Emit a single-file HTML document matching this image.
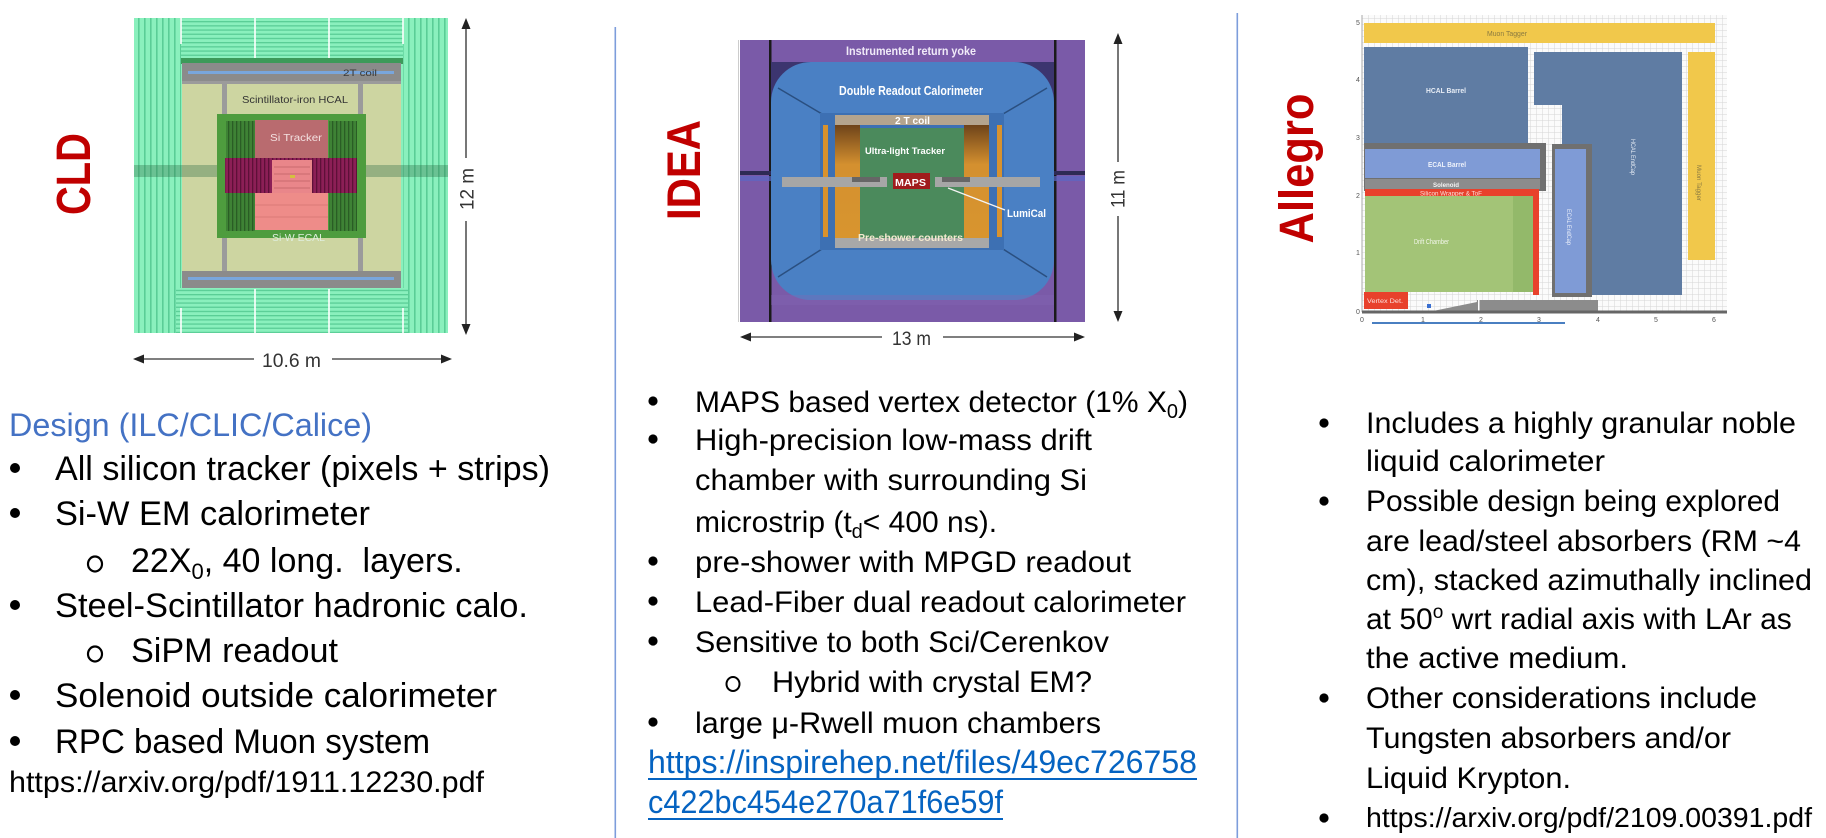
<!DOCTYPE html>
<html><head><meta charset="utf-8">
<style>
html,body{margin:0;padding:0;background:#fff;}
svg{display:block;}
text{font-family:"Liberation Sans",Arial,sans-serif;}
</style></head><body>
<svg width="1826" height="838" viewBox="0 0 1826 838" xmlns="http://www.w3.org/2000/svg">
<defs>
<pattern id="vs" width="6" height="10" patternUnits="userSpaceOnUse"><rect width="6" height="10" fill="#8af0bd"/><rect x="0" width="1.6" height="10" fill="#5acd96"/></pattern>
<pattern id="hs" width="10" height="4.2" patternUnits="userSpaceOnUse"><rect width="10" height="4.2" fill="#8af0bd"/><rect y="0" width="10" height="1.3" fill="#5acd96"/></pattern>
<pattern id="grid" width="6" height="6" patternUnits="userSpaceOnUse"><path d="M6 0H0V6" fill="none" stroke="#d6d6d6" stroke-width="1"/></pattern>
<pattern id="ds" width="4" height="10" patternUnits="userSpaceOnUse"><rect width="4" height="10" fill="#3e8235"/><rect width="1.3" height="10" fill="#2a5d25"/></pattern>
<pattern id="ms" width="4" height="10" patternUnits="userSpaceOnUse"><rect width="4" height="10" fill="#8c1f56"/><rect width="1.3" height="10" fill="#5e1038"/></pattern>
<linearGradient id="og" x1="0" y1="0" x2="0" y2="1"><stop offset="0" stop-color="#6e431a"/><stop offset="0.35" stop-color="#d4902f"/><stop offset="1" stop-color="#d8952f"/></linearGradient>
</defs>

<!-- separators -->
<rect x="614.5" y="27" width="1.6" height="811" fill="#7d9ddb"/>
<rect x="1236.5" y="13" width="1.6" height="825" fill="#7d9ddb"/>

<!-- ================= CLD ================= -->
<text transform="translate(90,174) rotate(-90)" x="-41" y="0" font-size="48" font-weight="bold" fill="#c00000" textLength="82" lengthAdjust="spacingAndGlyphs">CLD</text>

<rect x="134" y="18" width="314" height="315" fill="#8af0bd"/>
<rect x="134" y="18" width="47" height="315" fill="url(#vs)"/>
<rect x="403" y="18" width="45" height="315" fill="url(#vs)"/>
<rect x="181" y="18" width="222" height="40" fill="url(#hs)"/>
<rect x="176" y="288" width="232" height="45" fill="url(#hs)"/>
<g stroke="#ffffff" stroke-width="1.6">
<line x1="181" y1="18" x2="181" y2="44"/><line x1="255" y1="18" x2="255" y2="60"/><line x1="329" y1="18" x2="329" y2="60"/><line x1="403" y1="18" x2="403" y2="44"/>
<line x1="255" y1="289" x2="255" y2="333"/><line x1="329" y1="289" x2="329" y2="333"/><line x1="181" y1="308" x2="181" y2="333"/><line x1="403" y1="308" x2="403" y2="333"/>
</g>
<rect x="181" y="58" width="222" height="6" fill="#3d9a5a"/>
<rect x="182" y="63" width="219" height="18" fill="#8b8b8b"/>
<rect x="188" y="71" width="206" height="3" fill="#79a6dc"/>
<text x="343" y="76" font-size="9" fill="#3a3a3a" textLength="34" lengthAdjust="spacingAndGlyphs">2T coil</text>
<rect x="182" y="81" width="219" height="190" fill="#cdd5a1"/>
<rect x="222" y="81" width="5" height="190" fill="#9b9b9b"/>
<rect x="358" y="81" width="5" height="190" fill="#9b9b9b"/>
<rect x="182" y="81" width="219" height="3" fill="#9b9b9b"/>
<rect x="134" y="165" width="314" height="12" fill="#2f6e45" opacity="0.35"/>
<text x="242" y="103" font-size="10" fill="#333" textLength="106" lengthAdjust="spacingAndGlyphs">Scintillator-iron HCAL</text>
<rect x="217" y="114" width="149" height="124" fill="#4e9c3e"/>
<rect x="226" y="121" width="29" height="110" fill="url(#ds)"/>
<rect x="329" y="121" width="28" height="110" fill="url(#ds)"/>
<rect x="255" y="120" width="73" height="38" fill="#b96b6f"/>
<text x="270" y="141" font-size="10" fill="#f3e0e0" textLength="52" lengthAdjust="spacingAndGlyphs">Si Tracker</text>
<rect x="225" y="158" width="132" height="35" fill="url(#ms)"/>
<rect x="272" y="160" width="40" height="33" fill="#e9868a"/>
<g stroke="#c96a6e" stroke-width="1"><line x1="274" y1="167" x2="310" y2="167"/><line x1="274" y1="174" x2="310" y2="174"/><line x1="274" y1="181" x2="310" y2="181"/><line x1="274" y1="188" x2="310" y2="188"/></g>
<rect x="290" y="175" width="5" height="3" fill="#d4c040"/>
<rect x="255" y="193" width="73" height="37" fill="#ee8c89"/>
<g stroke="#d97a78" stroke-width="1"><line x1="255" y1="205" x2="328" y2="205"/><line x1="255" y1="217" x2="328" y2="217"/></g>
<text x="272" y="241" font-size="10" fill="#dfeedd" textLength="53" lengthAdjust="spacingAndGlyphs">Si-W ECAL</text>
<rect x="182" y="271" width="219" height="17" fill="#8b8b8b"/>
<rect x="188" y="277" width="206" height="3" fill="#79a6dc"/>

<!-- CLD arrows -->
<g stroke="#555" stroke-width="1.6">
<line x1="466" y1="28" x2="466" y2="158"/><line x1="466" y1="221" x2="466" y2="325"/>
<line x1="143" y1="359" x2="254" y2="359"/><line x1="332" y1="359" x2="442" y2="359"/>
</g>
<g fill="#222">
<polygon points="466,18 461.5,29 470.5,29"/><polygon points="466,335 461.5,324 470.5,324"/>
<polygon points="133,359 144,354.5 144,363.5"/><polygon points="452,359 441,354.5 441,363.5"/>
</g>
<text transform="translate(473.5,189) rotate(-90)" x="-21" y="0" font-size="19" fill="#333" textLength="42" lengthAdjust="spacingAndGlyphs">12 m</text>
<text x="262" y="367" font-size="19" fill="#333" textLength="59" lengthAdjust="spacingAndGlyphs">10.6 m</text>

<!-- CLD text -->
<text x="9" y="436" font-size="32" fill="#4472c4" textLength="363" lengthAdjust="spacingAndGlyphs">Design (ILC/CLIC/Calice)</text>
<g fill="#000">
<circle cx="15" cy="468" r="5"/><circle cx="15" cy="513" r="5"/><circle cx="15" cy="605" r="5"/><circle cx="15" cy="695" r="5"/><circle cx="15" cy="741" r="5"/>
</g>
<g fill="none" stroke="#000" stroke-width="2.2"><ellipse cx="95" cy="564" rx="7" ry="7.5"/><ellipse cx="95" cy="654" rx="7" ry="7.5"/></g>
<g font-size="34" fill="#000">
<text x="55" y="480" textLength="495" lengthAdjust="spacingAndGlyphs">All silicon tracker (pixels + strips)</text>
<text x="55" y="525" textLength="315" lengthAdjust="spacingAndGlyphs">Si-W EM calorimeter</text>
<text x="131" y="572">22X<tspan dy="7" font-size="22">0</tspan><tspan dy="-7">, 40 long.&#160; layers.</tspan></text>
<text x="55" y="617" textLength="473" lengthAdjust="spacingAndGlyphs">Steel-Scintillator hadronic calo.</text>
<text x="131" y="662" textLength="207" lengthAdjust="spacingAndGlyphs">SiPM readout</text>
<text x="55" y="707" textLength="442" lengthAdjust="spacingAndGlyphs">Solenoid outside calorimeter</text>
<text x="55" y="753" textLength="375" lengthAdjust="spacingAndGlyphs">RPC based Muon system</text>
</g>
<text x="9" y="792" font-size="30" fill="#000" textLength="475" lengthAdjust="spacingAndGlyphs">https://arxiv.org/pdf/1911.12230.pdf</text>

<!-- ================= IDEA ================= -->
<text transform="translate(700,170) rotate(-90)" x="-50" y="0" font-size="47" font-weight="bold" fill="#c00000" textLength="100" lengthAdjust="spacingAndGlyphs">IDEA</text>

<rect x="738" y="40" width="1" height="282" fill="#cccccc"/>
<rect x="740" y="40" width="345" height="282" fill="#7a5aa8"/>
<rect x="769" y="40" width="2.5" height="282" fill="#1a1a1a"/>
<rect x="1054" y="40" width="2.5" height="282" fill="#1a1a1a"/>
<rect x="740" y="171" width="345" height="4" fill="#2e2a55"/>
<rect x="740" y="176" width="345" height="5" fill="#5b66c4" opacity="0.7"/>
<polygon points="771,62 822,62 771,112" fill="#3c356f"/>
<polygon points="1054,62 1003,62 1054,112" fill="#3c356f"/>
<rect x="771" y="62" width="283" height="238" rx="40" fill="#4a80c4"/>
<rect x="771" y="295" width="283" height="10" fill="#8466b4" opacity="0.35"/>
<g stroke="#2a4f80" stroke-width="1.5">
<line x1="778" y1="88" x2="822" y2="114"/><line x1="1047" y1="88" x2="1003" y2="114"/>
<line x1="778" y1="277" x2="822" y2="249"/><line x1="1047" y1="277" x2="1003" y2="249"/>
</g>
<rect x="820" y="113" width="184" height="137" fill="#3d70b3"/>
<rect x="782" y="177" width="38" height="10" fill="#a6a6a6"/>
<rect x="1004" y="177" width="36" height="10" fill="#a6a6a6"/>
<text x="846" y="55" font-size="11.5" font-weight="bold" fill="#f0eaf8" textLength="130" lengthAdjust="spacingAndGlyphs">Instrumented return yoke</text>
<text x="839" y="95" font-size="12.5" font-weight="bold" fill="#ffffff" textLength="144" lengthAdjust="spacingAndGlyphs">Double Readout Calorimeter</text>
<rect x="823" y="125" width="5" height="112" fill="#d8922e"/>
<rect x="997" y="125" width="5" height="112" fill="#d8922e"/>
<rect x="835" y="115" width="154" height="10" fill="#b4a48e"/>
<text x="895" y="124" font-size="10" font-weight="bold" fill="#ffffff" textLength="35" lengthAdjust="spacingAndGlyphs">2 T coil</text>
<rect x="835" y="125" width="25" height="113" fill="url(#og)"/>
<rect x="964" y="125" width="25" height="113" fill="url(#og)"/>
<rect x="860" y="128" width="104" height="110" fill="#4b8a5c"/>
<text x="865" y="154" font-size="9.5" font-weight="bold" fill="#ffffff" textLength="80" lengthAdjust="spacingAndGlyphs">Ultra-light Tracker</text>
<rect x="820" y="177" width="67" height="10" fill="#a6a6a6"/>
<rect x="935" y="177" width="69" height="10" fill="#a6a6a6"/>
<rect x="852" y="177" width="28" height="5" fill="#666"/>
<rect x="942" y="177" width="28" height="5" fill="#666"/>
<rect x="893" y="173" width="37" height="16" fill="#a01c1c"/>
<text x="895" y="186" font-size="10" font-weight="bold" fill="#ffffff" textLength="31" lengthAdjust="spacingAndGlyphs">MAPS</text>
<line x1="948" y1="188" x2="1005" y2="210" stroke="#f4f4f4" stroke-width="1.3"/>
<text x="1007" y="217" font-size="11" font-weight="bold" fill="#ffffff" textLength="39" lengthAdjust="spacingAndGlyphs">LumiCal</text>
<rect x="835" y="238" width="154" height="10" fill="#a8a8a8"/>
<text x="858" y="241" font-size="10" font-weight="bold" fill="#f4ead0" textLength="105" lengthAdjust="spacingAndGlyphs">Pre-shower counters</text>

<!-- IDEA arrows -->
<g stroke="#555" stroke-width="1.6">
<line x1="1118" y1="43" x2="1118" y2="162"/><line x1="1118" y1="216" x2="1118" y2="312"/>
<line x1="750" y1="337" x2="882" y2="337"/><line x1="943" y1="337" x2="1075" y2="337"/>
</g>
<g fill="#222">
<polygon points="1118,33 1113.5,44 1122.5,44"/><polygon points="1118,322 1113.5,311 1122.5,311"/>
<polygon points="740,337 751,332.5 751,341.5"/><polygon points="1085,337 1074,332.5 1074,341.5"/>
</g>
<text transform="translate(1124.5,189) rotate(-90)" x="-19" y="0" font-size="19" fill="#333" textLength="38" lengthAdjust="spacingAndGlyphs">11 m</text>
<text x="892" y="345" font-size="19" fill="#333" textLength="39" lengthAdjust="spacingAndGlyphs">13 m</text>

<!-- IDEA text -->
<g fill="#000">
<circle cx="653" cy="401" r="4.6"/><circle cx="653" cy="439" r="4.6"/><circle cx="653" cy="561" r="4.6"/><circle cx="653" cy="601" r="4.6"/><circle cx="653" cy="641" r="4.6"/><circle cx="653" cy="722" r="4.6"/>
</g>
<ellipse cx="733" cy="684" rx="6.5" ry="7" fill="none" stroke="#000" stroke-width="2"/>
<g font-size="30" fill="#000">
<text x="695" y="412">MAPS based vertex detector (1% X<tspan dy="6" font-size="20">0</tspan><tspan dy="-6">)</tspan></text>
<text x="695" y="450" textLength="397" lengthAdjust="spacingAndGlyphs">High-precision low-mass drift</text>
<text x="695" y="490" textLength="392" lengthAdjust="spacingAndGlyphs">chamber with surrounding Si</text>
<text x="695" y="532">microstrip (t<tspan dy="6" font-size="20">d</tspan><tspan dy="-6">&lt; 400 ns).</tspan></text>
<text x="695" y="572" textLength="436" lengthAdjust="spacingAndGlyphs">pre-shower with MPGD readout</text>
<text x="695" y="612" textLength="491" lengthAdjust="spacingAndGlyphs">Lead-Fiber dual readout calorimeter</text>
<text x="695" y="652" textLength="414" lengthAdjust="spacingAndGlyphs">Sensitive to both Sci/Cerenkov</text>
<text x="772" y="692" textLength="320" lengthAdjust="spacingAndGlyphs">Hybrid with crystal EM?</text>
<text x="695" y="733" textLength="406" lengthAdjust="spacingAndGlyphs">large μ-Rwell muon chambers</text>
</g>
<text x="648" y="773" font-size="32" fill="#0563c1" textLength="549" lengthAdjust="spacingAndGlyphs">https://inspirehep.net/files/49ec726758</text>
<rect x="648" y="778" width="549" height="2" fill="#0563c1"/>
<text x="648" y="813" font-size="32" fill="#0563c1" textLength="355" lengthAdjust="spacingAndGlyphs">c422bc454e270a71f6e59f</text>
<rect x="648" y="818" width="355" height="2" fill="#0563c1"/>

<!-- ================= Allegro ================= -->
<text transform="translate(1313,168.5) rotate(-90)" x="-75" y="0" font-size="48" font-weight="bold" fill="#c00000" textLength="150" lengthAdjust="spacingAndGlyphs">Allegro</text>

<rect x="1362" y="15" width="365" height="297" fill="#fbfbfb"/>
<rect x="1362" y="15" width="365" height="297" fill="url(#grid)"/>
<rect x="1364" y="23" width="351" height="20" fill="#f1c84b"/>
<text x="1487" y="36" font-size="7.5" fill="#8a7a40" textLength="40" lengthAdjust="spacingAndGlyphs">Muon Tagger</text>
<rect x="1364" y="47" width="164" height="96" fill="#5f7ca3"/>
<text x="1426" y="93" font-size="7.5" font-weight="bold" fill="#e8eef6" textLength="40" lengthAdjust="spacingAndGlyphs">HCAL Barrel</text>
<polygon points="1534,52 1682,52 1682,295 1562,295 1562,105 1534,105" fill="#5f7ca3"/>
<text transform="translate(1631,157) rotate(90)" x="-18" y="0" font-size="6.5" fill="#e8eef6" textLength="36" lengthAdjust="spacingAndGlyphs">HCAL EndCap</text>
<rect x="1688" y="52" width="27" height="208" fill="#f1c84b"/>
<text transform="translate(1697,183) rotate(90)" x="-18" y="0" font-size="6.5" fill="#8a7a40" textLength="36" lengthAdjust="spacingAndGlyphs">Muon Tagger</text>
<rect x="1364" y="143" width="182" height="48" fill="#707070"/>
<rect x="1365" y="149" width="175" height="29" fill="#7f9bd6"/>
<text x="1428" y="167" font-size="7.5" font-weight="bold" fill="#eef2fb" textLength="38" lengthAdjust="spacingAndGlyphs">ECAL Barrel</text>
<rect x="1365" y="179" width="175" height="10" fill="#8c8c8c"/>
<text x="1433" y="187" font-size="6" font-weight="bold" fill="#f4f4f4" textLength="26" lengthAdjust="spacingAndGlyphs">Solenoid</text>
<rect x="1365" y="189" width="172" height="7" fill="#e8412c"/>
<text x="1420" y="195.5" font-size="6" fill="#fbe0dc" textLength="62" lengthAdjust="spacingAndGlyphs">Silicon Wrapper &amp; ToF</text>
<rect x="1533" y="189" width="6" height="106" fill="#e8412c"/>
<rect x="1365" y="196" width="168" height="96" fill="#a3c477"/>
<rect x="1513" y="196" width="20" height="96" fill="#93b96a"/>
<text x="1414" y="244" font-size="7" fill="#f2f6ea" textLength="35" lengthAdjust="spacingAndGlyphs">Drift Chamber</text>
<rect x="1552" y="144" width="40" height="153" fill="#707070"/>
<rect x="1555" y="149" width="31" height="144" fill="#7f9bd6"/>
<text transform="translate(1567,227) rotate(90)" x="-18" y="0" font-size="6.5" fill="#eef2fb" textLength="36" lengthAdjust="spacingAndGlyphs">ECAL EndCap</text>
<rect x="1364" y="292" width="44" height="17" fill="#e8412c"/>
<text x="1367" y="303" font-size="6.5" fill="#fbe0dc" textLength="36" lengthAdjust="spacingAndGlyphs">Vertex Det.</text>
<polygon points="1433,311 1477,302 1477,300 1598,300 1598,311" fill="#8c8c8c"/>
<rect x="1478" y="300" width="1.5" height="11" fill="#fff"/>
<rect x="1427" y="304" width="4" height="4" fill="#3a6fd0"/>
<line x1="1362" y1="15" x2="1362" y2="312" stroke="#aaa" stroke-width="1"/>
<line x1="1362" y1="312" x2="1727" y2="312" stroke="#666" stroke-width="3"/>
<g font-size="7" fill="#555">
<text x="1356" y="25">5</text><text x="1356" y="82">4</text><text x="1356" y="140">3</text><text x="1356" y="198">2</text><text x="1356" y="255">1</text><text x="1356" y="314">0</text>
<text x="1360" y="322">0</text><text x="1421" y="322">1</text><text x="1479" y="322">2</text><text x="1537" y="322">3</text><text x="1596" y="322">4</text><text x="1654" y="322">5</text><text x="1712" y="322">6</text>
</g>
<line x1="1372" y1="323" x2="1565" y2="323" stroke="#4a7fc1" stroke-width="2"/>

<!-- Allegro text -->
<g fill="#000">
<circle cx="1324" cy="423" r="4.6"/><circle cx="1324" cy="501" r="4.6"/><circle cx="1324" cy="698" r="4.6"/><circle cx="1324" cy="818" r="4.6"/>
</g>
<g font-size="30" fill="#000">
<text x="1366" y="433" textLength="430" lengthAdjust="spacingAndGlyphs">Includes a highly granular noble</text>
<text x="1366" y="471" textLength="239" lengthAdjust="spacingAndGlyphs">liquid calorimeter</text>
<text x="1366" y="511" textLength="414" lengthAdjust="spacingAndGlyphs">Possible design being explored</text>
<text x="1366" y="551" textLength="435" lengthAdjust="spacingAndGlyphs">are lead/steel absorbers (RM ~4</text>
<text x="1366" y="590" textLength="446" lengthAdjust="spacingAndGlyphs">cm), stacked azimuthally inclined</text>
<text x="1366" y="629">at 50<tspan dy="-11" font-size="19">o</tspan><tspan dy="11"> wrt radial axis with LAr as</tspan></text>
<text x="1366" y="668" textLength="262" lengthAdjust="spacingAndGlyphs">the active medium.</text>
<text x="1366" y="708" textLength="391" lengthAdjust="spacingAndGlyphs">Other considerations include</text>
<text x="1366" y="748" textLength="365" lengthAdjust="spacingAndGlyphs">Tungsten absorbers and/or</text>
<text x="1366" y="788" textLength="205" lengthAdjust="spacingAndGlyphs">Liquid Krypton.</text>
</g>
<text x="1366" y="827" font-size="28" fill="#000" textLength="446" lengthAdjust="spacingAndGlyphs">https://arxiv.org/pdf/2109.00391.pdf</text>
</svg>
</body></html>
